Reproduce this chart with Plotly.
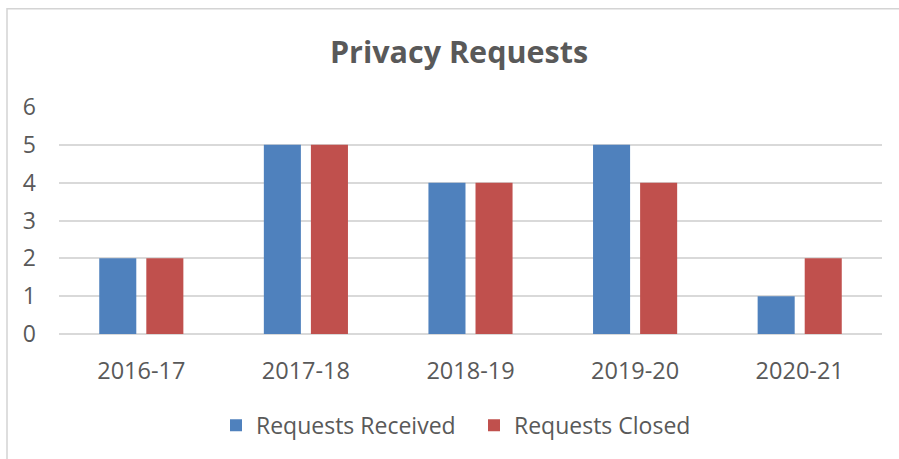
import plotly.graph_objects as go

categories = ["2016-17", "2017-18", "2018-19", "2019-20", "2020-21"]
requests_received = [2, 5, 4, 5, 1]
requests_closed = [2, 5, 4, 4, 2]
y_ticks = [0, 1, 2, 3, 4, 5, 6]

W, H = 899, 459
L, R, T, B = 59, 17, 107, 123
pw, ph = W - L - R, H - T - B

fig = go.Figure()
fig.add_trace(go.Bar(name="Requests Received", x=categories, y=requests_received,
                     marker=dict(color="#4F81BD", line=dict(width=0))))
fig.add_trace(go.Bar(name="Requests Closed", x=categories, y=requests_closed,
                     marker=dict(color="#C0504D", line=dict(width=0))))

font_family = "Open Sans, Liberation Sans, sans-serif"
fig.update_layout(
    width=W, height=H,
    margin=dict(l=L, r=R, t=T, b=B, pad=0),
    paper_bgcolor="white", plot_bgcolor="white",
    barmode="group", bargap=0.428, bargroupgap=0.213,
    font=dict(family=font_family, color="#595959", size=23),
    title=dict(text="<b>Privacy Requests</b>", x=459 / W, xanchor="center",
               y=1 - 52 / H, yanchor="middle",
               font=dict(size=30.5, color="#595959", family=font_family)),
    xaxis=dict(showgrid=False, showline=False, ticks="", ticklabelstandoff=20,
               tickfont=dict(size=23.5, color="#595959")),
    yaxis=dict(range=[0, 6], tickvals=y_ticks, showgrid=True, gridcolor="#D9D9D9",
               gridwidth=1.5, zeroline=True, zerolinecolor="#D9D9D9", zerolinewidth=1.5,
               showline=False, ticks="", ticklabelstandoff=22,
               tickfont=dict(size=23, color="#595959")),
    legend=dict(orientation="h", x=(216 - L) / pw, xanchor="left",
                y=-(428 - (H - B)) / ph, yanchor="middle",
                font=dict(size=23, color="#595959"), itemwidth=30,
                entrywidth=213, entrywidthmode="pixels",
                tracegroupgap=0),
    shapes=[dict(type="rect", xref="paper", yref="paper",
                 x0=(7 - L) / pw, x1=(W + 20 - L) / pw,
                 y0=-(H + 20 - (H - B)) / ph, y1=((H - B) - 8) / ph,
                 line=dict(color="#D4D4D4", width=1.5), fillcolor="rgba(0,0,0,0)",
                 layer="below")],
)

fig.write_html("out.html", config={"displayModeBar": False},
               post_script="document.body.style.margin='0';document.body.style.overflow='hidden';")
